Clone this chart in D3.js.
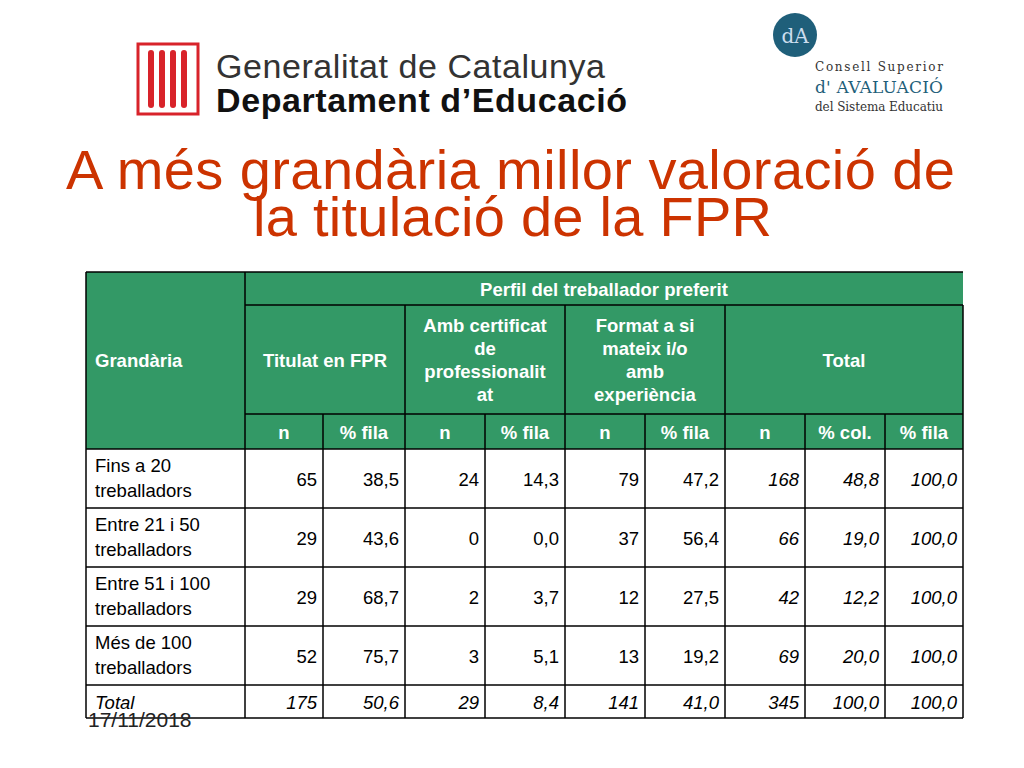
<!DOCTYPE html>
<html><head><meta charset="utf-8">
<script src="https://cdn.jsdelivr.net/npm/d3@7"></script>
<style>body{margin:0;background:#fff;font-family:"Liberation Sans",Arial,sans-serif}</style>
</head><body><div id="chart"></div>
<script>
"use strict";
const categories = [["Fins a 20", "treballadors"], ["Entre 21 i 50", "treballadors"], ["Entre 51 i 100", "treballadors"], ["Més de 100", "treballadors"], ["Total"]];
const titulatN = [65, 29, 29, 52, 175];
const titulatPct = ["38,5", "43,6", "68,7", "75,7", "50,6"];
const certN = [24, 0, 2, 3, 29];
const certPct = ["14,3", "0,0", "3,7", "5,1", "8,4"];
const formatN = [79, 37, 12, 13, 141];
const formatPct = ["47,2", "56,4", "27,5", "19,2", "41,0"];
const totalN = [168, 66, 42, 69, 345];
const totalCol = ["48,8", "19,0", "12,2", "20,0", "100,0"];
const totalFila = ["100,0", "100,0", "100,0", "100,0", "100,0"];
const groups = [["Titulat en FPR"], ["Amb certificat", "de", "professionalit", "at"], ["Format a si", "mateix i/o", "amb", "experiència"], ["Total"]];
const subHeads = ["n", "% fila", "n", "% fila", "n", "% fila", "n", "% col.", "% fila"];

const W = 1024, H = 768, green = "#339966";
const svg = d3.select("#chart").append("svg").attr("width", W).attr("height", H);

// Title
const g = svg.append("g");
g.append("text").attr("x", 66).attr("y", 189).attr("textLength", 889)
  .attr("fill", "#cc3300").attr("font-size", 56).text("A més grandària millor valoració de");
g.append("text").attr("x", 253).attr("y", 236).attr("textLength", 519)
  .attr("fill", "#cc3300").attr("font-size", 56).text("la titulació de la FPR");

// Generalitat logo
const logo = svg.append("g").attr("transform", "translate(138,44)");
logo.append("rect").attr("width", 60).attr("height", 70).attr("fill", "#fff").attr("stroke", "#d8232a").attr("stroke-width", 3);
d3.range(4).forEach(i => logo.append("rect").attr("x", 10 + i * 11).attr("y", 6).attr("width", 6).attr("height", 58).attr("rx", 3).attr("fill", "#d8232a"));
svg.append("text").attr("x", 216).attr("y", 78).attr("font-size", 34).attr("textLength", 389).attr("fill", "#333").text("Generalitat de Catalunya");
svg.append("text").attr("x", 216).attr("y", 112).attr("font-size", 34).attr("textLength", 411).attr("font-weight", "bold").attr("fill", "#111").text("Departament d’Educació");
// CSA logo
svg.append("circle").attr("cx", 795).attr("cy", 35).attr("r", 22).attr("fill", "#1f5f7a");
svg.append("text").attr("x", 795).attr("y", 43).attr("text-anchor", "middle").attr("font-family", "DejaVu Serif").attr("font-size", 20).attr("fill", "#cde").text("dA");
svg.append("text").attr("x", 815).attr("y", 71).attr("font-family", "DejaVu Serif").attr("font-size", 12).attr("textLength", 128).attr("fill", "#333").text("Consell Superior");
svg.append("text").attr("x", 815).attr("y", 93).attr("font-family", "DejaVu Serif").attr("font-size", 17).attr("textLength", 128).attr("fill", "#1f5f7a").text("d' AVALUACIÓ");
svg.append("text").attr("x", 815).attr("y", 111).attr("font-family", "DejaVu Serif").attr("font-size", 12).attr("textLength", 128).attr("fill", "#333").text("del Sistema Educatiu");

// Table layout
const colEdges = [86, 245, 323, 405, 485, 565, 645, 725, 805, 885, 963];
const headY = [272, 305, 414, 449];
const rowY = d3.scaleLinear().domain([0, 5]).range([449, 744]);
const t = svg.append("g").attr("font-size", 18.5);

t.append("rect").attr("x", colEdges[0]).attr("y", headY[0]).attr("width", colEdges[10] - colEdges[0]).attr("height", headY[3] - headY[0]).attr("fill", green);
const hs = { fill: "#fff", "font-weight": "bold" };
const txt = (sel, x, y, s, anchor, attrs) => {
  const e = sel.append("text").attr("x", x).attr("y", y).attr("text-anchor", anchor).text(s);
  Object.entries(attrs || {}).forEach(([k, v]) => e.attr(k, v));
  return e;
};
txt(t, 95, 367, "Grandària", "start", hs);
txt(t, (colEdges[1] + colEdges[10]) / 2, 296, "Perfil del treballador preferit", "middle", hs);
groups.forEach((lines, i) => {
  const x0 = colEdges[1 + i * 2], x1 = i === 3 ? colEdges[10] : colEdges[3 + i * 2];
  const cy = (headY[1] + headY[2]) / 2, lh = 23;
  lines.forEach((l, j) => txt(t, (x0 + x1) / 2, cy + 7 + (j - (lines.length - 1) / 2) * lh, l, "middle", hs));
});
subHeads.forEach((s, i) => txt(t, (colEdges[i + 1] + colEdges[i + 2]) / 2, 439, s, "middle", hs));

const cols = [titulatN, titulatPct, certN, certPct, formatN, formatPct, totalN, totalCol, totalFila];
categories.forEach((c, r) => {
  const y0 = rowY(r);
  const italicRow = r === 4;
  if (c.length === 2) {
    txt(t, 95, y0 + 23, c[0], "start");
    txt(t, 95, y0 + 48, c[1], "start");
  } else {
    txt(t, 95, y0 + 24, c[0], "start", { "font-style": "italic" });
  }
  cols.forEach((arr, i) => {
    txt(t, colEdges[i + 2] - 6, y0 + (r === 4 ? 24 : 37), arr[r], "end",
      (italicRow || i >= 6) ? { "font-style": "italic" } : {});
  });
});

// grid lines
const lines = t.append("g").attr("stroke", "#000").attr("stroke-width", 1.5);
const bottom = 718;
const hl = (y, x0, x1) => lines.append("line").attr("x1", x0).attr("x2", x1).attr("y1", y).attr("y2", y);
const vl = (x, y0, y1) => lines.append("line").attr("x1", x).attr("x2", x).attr("y1", y0).attr("y2", y1);
hl(headY[0], colEdges[0], colEdges[10]);
hl(headY[1], colEdges[1], colEdges[10]);
hl(headY[2], colEdges[1], colEdges[10]);
[0, 1, 2, 3, 4].forEach(r => hl(rowY(r), colEdges[0], colEdges[10]));
hl(bottom, colEdges[0], colEdges[10]);
vl(colEdges[0], headY[0], bottom);
vl(colEdges[1], headY[0], bottom);
[3, 5, 7].forEach(i => vl(colEdges[i], headY[1], bottom));
[2, 4, 6, 8, 9].forEach(i => vl(colEdges[i], headY[2], bottom));
vl(colEdges[10], headY[1], bottom);

svg.append("text").attr("x", 88).attr("y", 727).attr("font-size", 21).attr("fill", "#222").text("17/11/2018");
</script></body></html>
